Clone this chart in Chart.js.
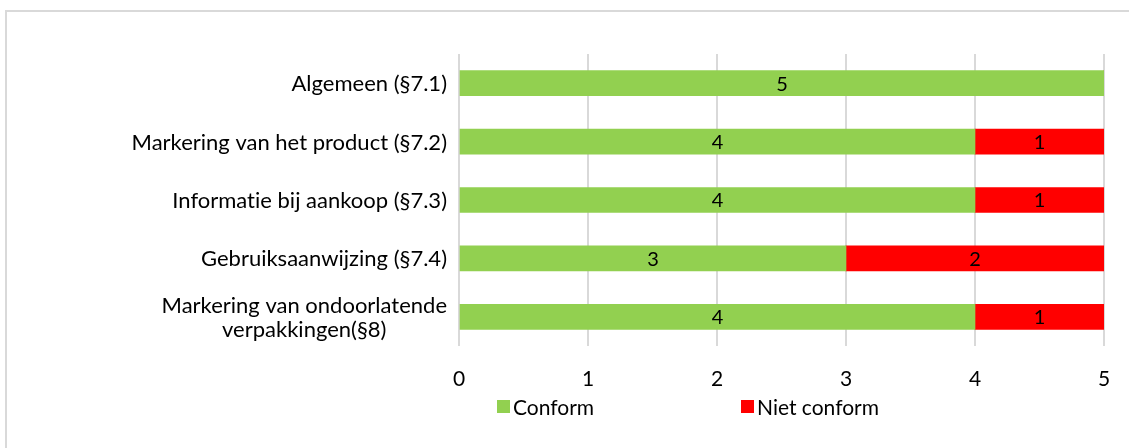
<!DOCTYPE html>
<html>
<head>
<meta charset="utf-8">
<script src="https://cdn.jsdelivr.net/npm/chart.js@4"></script>
<style>
  html, body { margin: 0; padding: 0; background: #fff; }
  #wrap { width: 1129px; height: 448px; position: relative; }
</style>
</head>
<body>
<div id="wrap"><canvas id="bar-chart" width="1129" height="448"></canvas></div>
<script>
// Gegevens
const categorieen = [
  'Algemeen (§7.1)',
  'Markering van het product (§7.2)',
  'Informatie bij aankoop (§7.3)',
  'Gebruiksaanwijzing (§7.4)',
  ['Markering van ondoorlatende', 'verpakkingen(§8)']
];
const conform = [5, 4, 4, 3, 4];
const nietConform = [0, 1, 1, 2, 1];
const xTicks = [0, 1, 2, 3, 4, 5];

const FONT = 'Lato';

// rand rond de grafiek, categorielabels, legende en waarden in de balken
const extras = {
  id: 'extras',
  beforeDraw(chart) {
    const c = chart.ctx;
    c.save();
    c.fillStyle = '#fff';
    c.fillRect(0, 0, chart.width, chart.height);
    c.strokeStyle = '#d9d9d9';
    c.lineWidth = 2;
    c.strokeRect(6, 11, chart.width + 20, chart.height + 20);
    c.restore();
  },
  afterDatasetsDraw(chart) {
    const c = chart.ctx;
    c.save();
    c.textBaseline = 'middle';
    if ('textRendering' in c) c.textRendering = 'optimizeSpeed'; // geen ti-ligatuur

    // categorielabels: blok rechts uitgelijnd, regels gecentreerd
    const yScale = chart.scales.y;
    c.font = '22px ' + FONT;
    c.fillStyle = '#000';
    c.textAlign = 'center';
    const lh = 24;
    chart.data.labels.forEach((lab, i) => {
      const lines = Array.isArray(lab) ? lab : [lab];
      const w = Math.max(...lines.map(l => c.measureText(l).width));
      const cx = chart.chartArea.left - 12 - w / 2;
      const cy = yScale.getPixelForTick(i);
      lines.forEach((l, k) => {
        c.fillText(l, cx, cy + (k - (lines.length - 1) / 2) * lh + 1);
      });
    });

    // waarden
    c.font = '20px ' + FONT;
    chart.data.datasets.forEach((ds, i) => {
      const meta = chart.getDatasetMeta(i);
      meta.data.forEach((bar, j) => {
        const v = ds.data[j];
        if (!v) return;
        c.fillText(String(v), (bar.x + bar.base) / 2, bar.y + 1);
      });
    });

    // legende
    c.font = '21px ' + FONT;
    const startX = [497, 741];
    const y = 407;
    chart.data.datasets.forEach((ds, i) => {
      c.fillStyle = ds.backgroundColor;
      c.fillRect(startX[i], y - 7, 13, 13);
      c.fillStyle = '#000';
      c.textAlign = 'left';
      c.fillText(ds.label, startX[i] + 16, y + 1);
    });
    c.restore();
  }
};

const ctx = document.getElementById('bar-chart').getContext('2d');
new Chart(ctx, {
  type: 'bar',
  data: {
    labels: categorieen,
    datasets: [{
      label: 'Conform',
      data: conform,
      backgroundColor: '#92d050',
      barThickness: 25
    }, {
      label: 'Niet conform',
      data: nietConform,
      backgroundColor: '#ff0000',
      barThickness: 25
    }]
  },
  options: {
    indexAxis: 'y',
    responsive: false,
    animation: false,
    layout: { padding: { left: 0, right: 25, top: 54, bottom: 52 } },
    plugins: {
      legend: { display: false },
      tooltip: { enabled: false }
    },
    scales: {
      x: {
        stacked: true,
        min: 0,
        max: 5,
        afterBuildTicks(scale) { scale.ticks = xTicks.map(v => ({ value: v })); },
        afterFit(scale) {
          scale.height = 50;
          scale.paddingLeft = 0;
          scale.paddingRight = 0;
        },
        border: { display: false },
        grid: { color: '#d9d9d9', lineWidth: 2, drawTicks: false },
        ticks: { color: '#000', padding: 21, font: { family: FONT, size: 21 } }
      },
      y: {
        stacked: true,
        afterFit(scale) { scale.width = 459; },
        border: { display: false },
        grid: { display: false, drawTicks: false },
        ticks: { display: false }
      }
    }
  },
  plugins: [extras]
});
</script>
</body>
</html>
